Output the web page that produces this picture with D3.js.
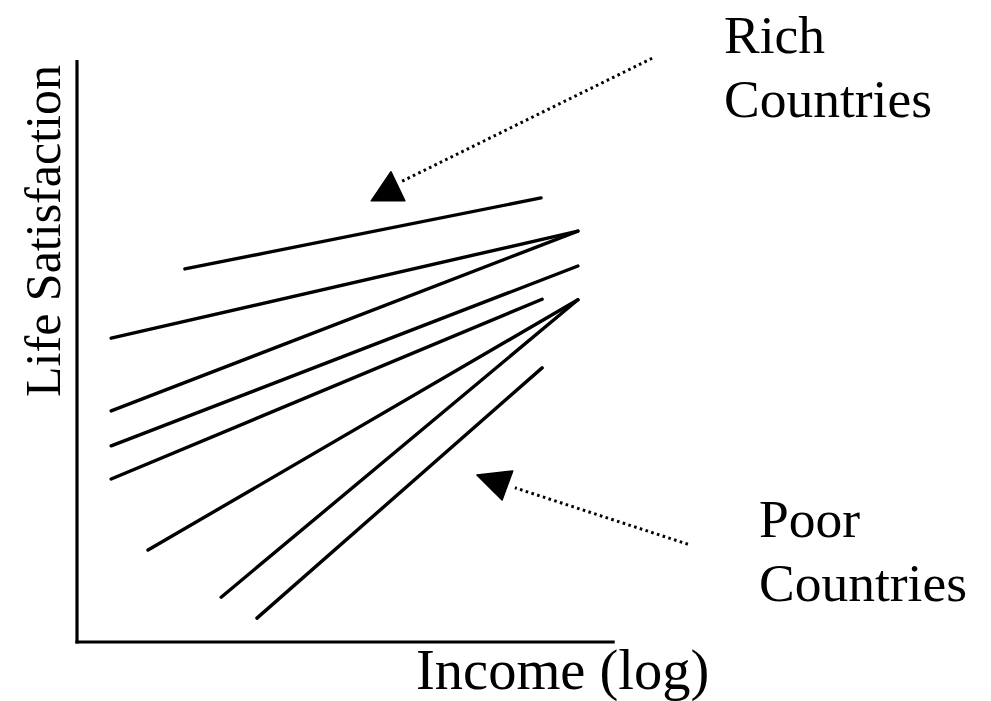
<!DOCTYPE html>
<html>
<head>
<meta charset="utf-8">
<script src="https://cdn.jsdelivr.net/npm/d3@7"></script>
<style>
  html, body { margin: 0; padding: 0; background: #fff; }
  svg { display: block; }
  text { font-family: "Liberation Serif", "Times New Roman", serif; fill: #000; }
</style>
</head>
<body>
<svg id="chart" width="991" height="701"></svg>
<script>
// Each line: a country's income–satisfaction relation (schematic units 0–10)
const lineIds = ["r1", "r2", "r3", "r4", "r5", "p1", "p2", "p3"];
const startIncome = [2.02, 0.64, 0.64, 0.64, 0.64, 1.33, 2.70, 3.37];
const startSatisfaction = [6.41, 5.22, 3.97, 3.37, 2.80, 1.58, 0.77, 0.41];
const endIncome = [8.69, 9.38, 9.38, 9.38, 8.71, 9.38, 9.38, 8.71];
const endSatisfaction = [7.63, 7.06, 7.06, 6.46, 5.89, 5.88, 5.88, 4.71];

// Annotations
const annotationLabels = [["Rich", "Countries"], ["Poor", "Countries"]];
const arrowFrom = [[10.77, 10.03], [11.44, 1.68]];
const arrowTo = [[6.05, 7.90], [8.20, 2.65]];
const arrowHeads = [
  [[5.88, 8.08], [5.51, 7.58], [6.14, 7.58]],
  [[7.49, 2.87], [8.16, 2.94], [7.96, 2.44]]
];
const xTitle = "Income (log)";
const yTitle = "Life Satisfaction";

const svg = d3.select("#chart");
const x = d3.scaleLinear().domain([0, 10]).range([77, 611]);
const y = d3.scaleLinear().domain([0, 10]).range([642, 60]);

// Axes (no ticks)
const xAxis = d3.axisBottom(x).tickValues([]).tickSizeOuter(0);
const yAxis = d3.axisLeft(y).tickValues([]).tickSizeOuter(0);
svg.append("g").attr("transform", `translate(0,${y(0)})`).call(xAxis)
  .call(g => g.select(".domain").attr("stroke", "#000").attr("stroke-width", 3.2)
    .attr("d", `M${x(0) - 1.6},0H${x(10.07)}`));
svg.append("g").attr("transform", `translate(${x(0)},0)`).call(yAxis)
  .call(g => g.select(".domain").attr("stroke", "#000").attr("stroke-width", 3.2)
    .attr("d", `M0,${y(0) + 1.6}V${y(10)}`));

// Lines
const data = lineIds.map((id, i) => ({
  id, x1: startIncome[i], y1: startSatisfaction[i], x2: endIncome[i], y2: endSatisfaction[i]
}));
svg.append("g").selectAll("line").data(data).join("line")
  .attr("x1", d => x(d.x1)).attr("y1", d => y(d.y1))
  .attr("x2", d => x(d.x2)).attr("y2", d => y(d.y2))
  .attr("stroke", "#000").attr("stroke-width", 3.4).attr("stroke-linecap", "round");

// Dotted arrows
const ann = svg.append("g");
arrowFrom.forEach((f, i) => {
  ann.append("line")
    .attr("x1", x(f[0])).attr("y1", y(f[1]))
    .attr("x2", x(arrowTo[i][0])).attr("y2", y(arrowTo[i][1]))
    .attr("stroke", "#000").attr("stroke-width", 3)
    .attr("stroke-dasharray", "2.6,3.4");
  ann.append("path")
    .attr("d", d3.line().x(p => x(p[0])).y(p => y(p[1])).curve(d3.curveLinearClosed)(arrowHeads[i]))
    .attr("fill", "#000").attr("stroke", "#000").attr("stroke-width", 1.5).attr("stroke-linejoin", "round");
});

// Labels
const labelPos = [[724, 53], [759, 537]];
annotationLabels.forEach((lines, i) => {
  const t = svg.append("text").attr("x", labelPos[i][0]).attr("y", labelPos[i][1])
    .attr("font-size", 53.5);
  lines.forEach((s, j) => {
    t.append("tspan").attr("x", labelPos[i][0]).attr("dy", j === 0 ? 0 : 64).text(s);
  });
});

svg.append("text").attr("x", 416).attr("y", 689).attr("font-size", 56.5).text(xTitle);
svg.append("text").attr("transform", "translate(60,231) rotate(-90)")
  .attr("text-anchor", "middle").attr("font-size", 50).text(yTitle);
</script>
</body>
</html>
